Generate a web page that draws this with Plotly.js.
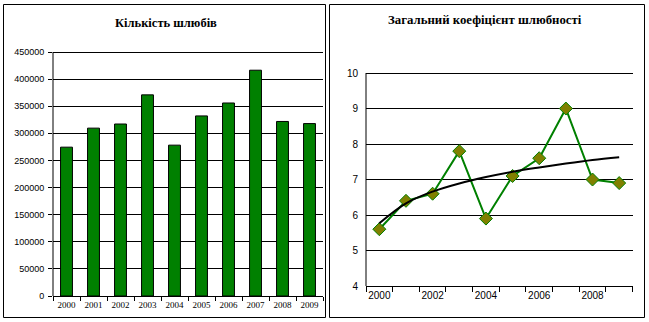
<!DOCTYPE html>
<html>
<head>
<meta charset="utf-8">
<script src="https://cdn.plot.ly/plotly-3.0.1.min.js"></script>
<style>html,body{margin:0;padding:0;background:#fff;}#chart{width:649px;height:322px;}</style>
</head>
<body>
<div id="chart"></div>
<script>
// Data
const years = ["2000","2001","2002","2003","2004","2005","2006","2007","2008","2009"];
const marriages = [274500, 309600, 317200, 370966, 278211, 332138, 355985, 416427, 321907, 318000];
const rateYears = [2000, 2001, 2002, 2003, 2004, 2005, 2006, 2007, 2008, 2009];
const marriageRate = [5.6, 6.4, 6.6, 7.8, 5.9, 7.1, 7.6, 9.0, 7.0, 6.9];
const rateTrend = [5.77, 6.33, 6.66, 6.89, 7.07, 7.22, 7.34, 7.45, 7.55, 7.63];
const rateTickVals = [2000, 2002, 2004, 2006, 2008];
const rateTickText = ["2000", "2002", "2004", "2006", "2008"];
const title1 = "Кількість шлюбів";
const title2 = "Загальний коефіцієнт шлюбності";

const W = 649, H = 322;
const px = v => v / W;
const py = v => 1 - v / H;

const traces = [
  {
    type: 'bar', x: years, y: marriages, xaxis: 'x', yaxis: 'y',
    marker: {color: '#008000', line: {color: '#000000', width: 1}},
    hoverinfo: 'none'
  },
  {
    type: 'scatter', mode: 'lines+markers', x: rateYears, y: marriageRate, xaxis: 'x2', yaxis: 'y2',
    line: {color: '#008000', width: 2},
    marker: {symbol: 'diamond', size: 10, color: '#808000', line: {color: '#008000', width: 1}},
    hoverinfo: 'none'
  },
  {
    type: 'scatter', mode: 'lines', x: rateYears, y: rateTrend, xaxis: 'x2', yaxis: 'y2',
    line: {color: '#000000', width: 2, shape: 'spline'},
    hoverinfo: 'none'
  }
];

const layout = {
  width: W, height: H,
  margin: {l: 0, r: 0, t: 0, b: 0},
  paper_bgcolor: '#ffffff', plot_bgcolor: 'rgba(0,0,0,0)',
  showlegend: false,
  bargap: 0.56,
  xaxis: {
    domain: [px(53), px(323)], anchor: 'y', type: 'category',
    showline: true, linecolor: '#000', linewidth: 1,
    ticks: 'outside', tickson: 'boundaries', ticklen: 4, tickcolor: '#000',
    tickangle: 0,
    showgrid: false, automargin: false, fixedrange: true,
    tickfont: {family: 'Liberation Serif', size: 9, color: '#000'}
  },
  yaxis: {
    domain: [py(296), py(49.3)], anchor: 'x',
    range: [0, 455000], dtick: 50000, tick0: 0, tickformat: 'd',
    showline: false,
    ticks: 'outside', ticklen: 4, tickcolor: '#000', ticklabelstandoff: 2,
    showgrid: true, gridcolor: '#000', gridwidth: 1, zeroline: false,
    automargin: false, fixedrange: true,
    tickfont: {family: 'Liberation Sans', size: 9, color: '#000'}
  },
  xaxis2: {
    domain: [px(366), px(632.5)], anchor: 'y2',
    range: [1999.5, 2009.5],
    tickmode: 'array', tickvals: rateTickVals, ticktext: rateTickText,
    ticks: '', showgrid: false, zeroline: false,
    minor: {tick0: 1999.5, dtick: 1, ticks: 'outside', ticklen: 5, tickcolor: '#000', showgrid: false},
    showline: true, linecolor: '#000', linewidth: 1,
    automargin: false, fixedrange: true,
    tickfont: {family: 'Liberation Sans', size: 10, color: '#000'}
  },
  yaxis2: {
    domain: [py(286), py(69.5)], anchor: 'x2',
    range: [4, 10.1], dtick: 1, tick0: 4,
    showline: false,
    ticks: '', showgrid: true, gridcolor: '#000', gridwidth: 1, zeroline: false,
    ticklabelstandoff: 7,
    automargin: false, fixedrange: true,
    tickfont: {family: 'Liberation Sans', size: 10, color: '#000'}
  },
  shapes: [
    {type: 'rect', xref: 'paper', yref: 'paper', x0: px(3.5), x1: px(325.5), y0: py(317.5), y1: py(4.5), line: {color: '#000', width: 1}},
    {type: 'rect', xref: 'paper', yref: 'paper', x0: px(329.5), x1: px(644.5), y0: py(317.5), y1: py(4.5), line: {color: '#000', width: 1}},
    {type: 'line', xref: 'paper', yref: 'paper', x0: px(53), x1: px(53), y0: py(296), y1: py(52), line: {color: '#000', width: 1}},
    {type: 'line', xref: 'paper', yref: 'paper', x0: px(366), x1: px(366), y0: py(286), y1: py(73), line: {color: '#000', width: 1}}
  ],
  annotations: [
    {text: '<b>' + title1 + '</b>', xref: 'paper', yref: 'paper', x: px(166), y: py(23), xanchor: 'center', yanchor: 'middle', showarrow: false,
     font: {family: 'Liberation Serif', size: 12.5, color: '#000'}},
    {text: '<b>' + title2 + '</b>', xref: 'paper', yref: 'paper', x: px(485), y: py(19.5), xanchor: 'center', yanchor: 'middle', showarrow: false,
     font: {family: 'Liberation Serif', size: 12.8, color: '#000'}}
  ]
};

Plotly.newPlot('chart', traces, layout, {staticPlot: true, displayModeBar: false});
</script>
</body>
</html>
